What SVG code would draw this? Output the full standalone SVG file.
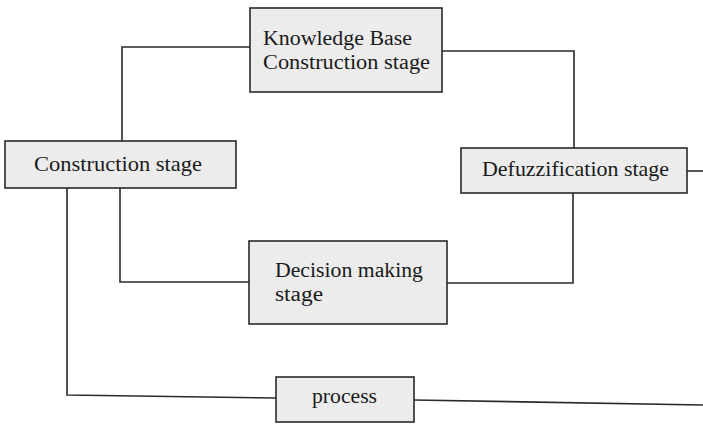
<svg xmlns="http://www.w3.org/2000/svg" width="703" height="425" viewBox="0 0 703 425">
<style>
.box{fill:#ececec;stroke:#2a2a2a;stroke-width:1.6}
.ln{fill:none;stroke:#2a2a2a;stroke-width:1.6}
text{font-family:"Liberation Serif","Times New Roman",serif;font-size:22px;fill:#1a1a1a}
.two{font-size:20.5px}
</style>
<rect width="703" height="425" fill="#ffffff"/>
<g id="connectors">
<polyline class="ln" points="250,47 122,47 122,141"/>
<polyline class="ln" points="442,51 574,51 574,148"/>
<line class="ln" x1="687" y1="171" x2="703" y2="171"/>
<polyline class="ln" points="120,188 120,282 249,282"/>
<polyline class="ln" points="447,283 573,283 573,193"/>
<polyline class="ln" points="67,188 67,395 276,398"/>
<polyline class="ln" points="414,400 703,405"/>
</g>
<g id="construction">
<rect class="box" x="5" y="141" width="231" height="47"/>
<text x="34" y="171" textLength="168" lengthAdjust="spacingAndGlyphs">Construction stage</text>
</g>
<g id="kb">
<rect class="box" x="250" y="8" width="192" height="84"/>
<text class="two" x="263" y="45" textLength="149" lengthAdjust="spacingAndGlyphs">Knowledge Base</text>
<text class="two" x="263" y="68.5" textLength="167" lengthAdjust="spacingAndGlyphs">Construction stage</text>
</g>
<g id="defuzz">
<rect class="box" x="461" y="148" width="226" height="45"/>
<text x="482" y="176" textLength="187" lengthAdjust="spacingAndGlyphs">Defuzzification stage</text>
</g>
<g id="decision">
<rect class="box" x="249" y="241" width="198" height="83"/>
<text class="two" x="275" y="277" textLength="148" lengthAdjust="spacingAndGlyphs">Decision making</text>
<text class="two" x="275" y="300.5" textLength="48" lengthAdjust="spacingAndGlyphs">stage</text>
</g>
<g id="process">
<rect class="box" x="276" y="377" width="138" height="45"/>
<text x="312" y="403" textLength="65" lengthAdjust="spacingAndGlyphs">process</text>
</g>
</svg>
